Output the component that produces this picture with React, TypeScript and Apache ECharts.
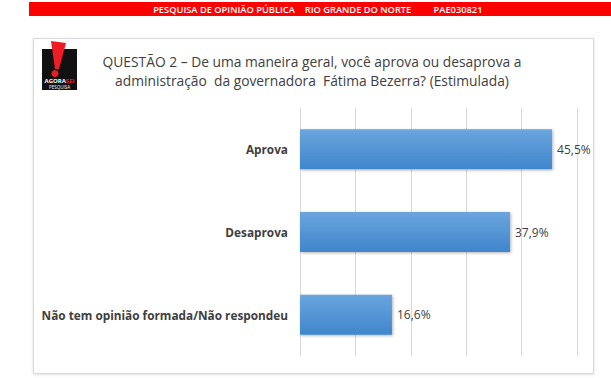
import React, { useEffect, useRef } from "react";
import * as echarts from "echarts";

const categories = ["Aprova", "Desaprova", "Não tem opinião formada/Não respondeu"];
const values = [45.5, 37.9, 16.6];
const valueLabels = ["45,5%", "37,9%", "16,6%"];
const axisMax = 50;
const axisInterval = 10;
const bannerTexts = ["PESQUISA DE OPINIÃO PÚBLICA", "RIO GRANDE DO NORTE", "PAE030821"];
const titleLines = [
  "QUESTÃO 2 – De uma maneira geral, você aprova ou desaprova a",
  "administração  da governadora  Fátima Bezerra? (Estimulada)",
];

export default function App() {
  const ref = useRef<HTMLDivElement>(null);
  useEffect(() => {
    if (!ref.current) return;
    const chart = echarts.init(ref.current, null, { renderer: "svg" });
    const font = "Open Sans, Liberation Sans, sans-serif";
    chart.setOption({
      animation: false,
      backgroundColor: "#ffffff",
      grid: { left: 300, right: 34, top: 108, bottom: 22, containLabel: false },
      xAxis: {
        type: "value",
        min: 0,
        max: axisMax,
        interval: axisInterval,
        axisLabel: { show: false },
        axisLine: { show: false },
        axisTick: { show: false },
        splitLine: { show: true, lineStyle: { color: "#d9d9d9", width: 1 } },
      },
      yAxis: {
        type: "category",
        data: categories,
        inverse: true,
        axisLine: { show: false },
        axisTick: { show: false },
        axisLabel: {
          color: "#404040",
          fontWeight: "bold",
          fontSize: 11.8,
          fontFamily: font,
          margin: 12,
        },
      },
      graphic: [
        {
          type: "rect",
          z: -10,
          shape: { x: 33.5, y: 38.5, width: 560, height: 335 },
          style: { fill: "#ffffff", stroke: "#d9d9d9", lineWidth: 1, shadowColor: "rgba(0,0,0,0.12)", shadowBlur: 3, shadowOffsetY: 1 },
        },
        {
          type: "rect",
          shape: { x: 29, y: 2, width: 582, height: 14 },
          style: { fill: "#ff0000" },
        },
        {
          type: "text",
          x: 224,
          y: 9,
          style: { text: bannerTexts[0], fill: "#ffffff", fontSize: 9.3, fontWeight: 600, fontFamily: font, align: "center", verticalAlign: "middle" },
        },
        {
          type: "text",
          x: 358,
          y: 9,
          style: { text: bannerTexts[1], fill: "#ffffff", fontSize: 9.3, fontWeight: 600, fontFamily: font, align: "center", verticalAlign: "middle" },
        },
        {
          type: "text",
          x: 458,
          y: 9,
          style: { text: bannerTexts[2], fill: "#ffffff", fontSize: 9.3, fontWeight: 600, fontFamily: font, align: "center", verticalAlign: "middle" },
        },
        {
          type: "text",
          x: 312,
          y: 61,
          style: { text: titleLines[0], fill: "#404040", fontSize: 13.8, fontWeight: 500, fontFamily: font, align: "center", verticalAlign: "middle" },
        },
        {
          type: "text",
          x: 312,
          y: 80,
          style: { text: titleLines[1], fill: "#404040", fontSize: 13.8, fontWeight: 500, fontFamily: font, align: "center", verticalAlign: "middle" },
        },
        { type: "rect", shape: { x: 42, y: 49, width: 35, height: 41 }, style: { fill: "#111111" } },
        {
          type: "polygon",
          shape: { points: [[51, 41], [66, 43], [59, 69], [55, 69]] },
          style: { fill: "#ee1c25" },
        },
        { type: "circle", shape: { cx: 55, cy: 73.5, r: 3.5 }, style: { fill: "#ee1c25" } },
        {
          type: "text",
          x: 59.5,
          y: 81,
          style: {
            text: "{a|AGORA}{b|SEI}",
            align: "center",
            verticalAlign: "middle",
            rich: {
              a: { fill: "#ffffff", fontSize: 6, fontWeight: "bold", fontFamily: font },
              b: { fill: "#ee1c25", fontSize: 6, fontWeight: "bold", fontFamily: font },
            },
          },
        },
        {
          type: "text",
          x: 59.5,
          y: 86.5,
          style: { text: "PESQUISA", fill: "#ffffff", fontSize: 4.5, fontFamily: font, align: "center", verticalAlign: "middle" },
        },
      ],
      series: [
        {
          type: "bar",
          data: values,
          barWidth: 40,
          itemStyle: {
            color: new echarts.graphic.LinearGradient(0, 0, 0, 1, [
              { offset: 0, color: "#6aa5de" },
              { offset: 1, color: "#3f86cc" },
            ]),
            shadowColor: "rgba(0,0,0,0.3)",
            shadowBlur: 3,
            shadowOffsetX: 1,
            shadowOffsetY: 1,
          },
          label: {
            show: true,
            position: "right",
            distance: 5,
            color: "#404040",
            fontSize: 12,
            fontFamily: font,
            formatter: (p: any) => valueLabels[p.dataIndex],
          },
        },
      ],
    });
    return () => chart.dispose();
  }, []);
  return (
    <div
      ref={ref}
      style={{ position: "fixed", left: 0, top: 0, width: 611, height: 378 }}
    />
  );
}
